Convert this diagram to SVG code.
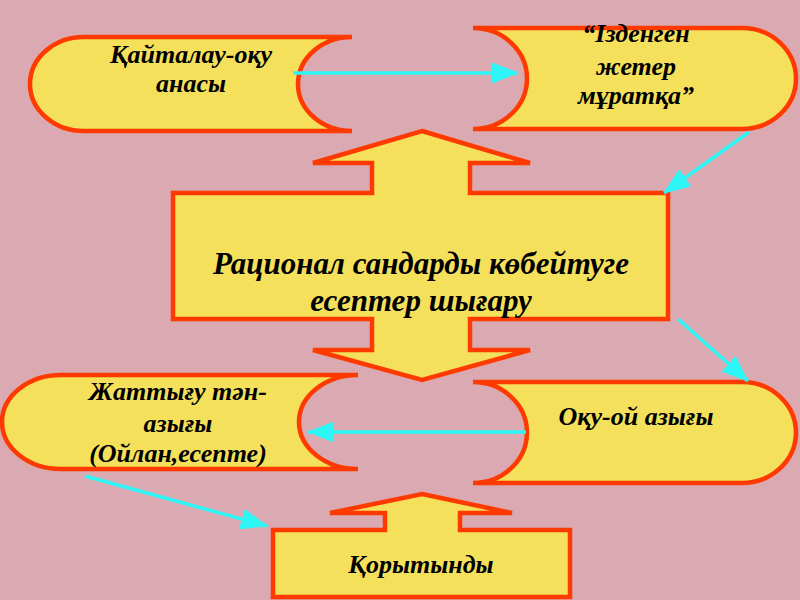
<svg xmlns="http://www.w3.org/2000/svg" width="800" height="600" viewBox="0 0 800 600">
<defs>
<style>
.shape{fill:#f4e05a;stroke:#ff3a00;stroke-width:4.5;stroke-linejoin:miter}
.lbl{font-family:"Liberation Serif","Times New Roman",serif;font-weight:bold;font-style:italic;fill:#000;text-anchor:middle}
.s{font-size:26px}
.m{font-size:31px}
.con{stroke:#2ef6f6;stroke-width:3.5;fill:none}
</style>
<marker id="ah" viewBox="0 0 26 20" refX="26" refY="10" markerWidth="26" markerHeight="20" markerUnits="userSpaceOnUse" orient="auto">
<path d="M0,0 L26,10 L0,20 Z" fill="#2ef6f6" stroke="#2ef6f6" stroke-width="1"/>
</marker>
</defs>
<rect width="800" height="600" fill="#daa9b1"/>
<g id="node-kaitalau">
<path class="shape" d="M84,37 L352,37 A54 47 0 0 0 352,131 L84,131 A54 47 0 0 1 84,37 Z"/>
<text class="lbl s" x="191" y="63">Қайталау-оқу</text>
<text class="lbl s" x="191" y="92">анасы</text>
</g>
<g id="node-izdengen">
<path class="shape" d="M473,28 L742,28 A54 50.5 0 0 1 742,129 L473,129 A54 50.5 0 0 0 473,28 Z"/>
<text class="lbl s" x="636" y="42">“Ізденген</text>
<text class="lbl s" x="636" y="75">жетер</text>
<text class="lbl s" x="636" y="104">мұратқа”</text>
</g>
<g id="node-center">
<path class="shape" d="M422,131 L530,163 L470,163 L470,193 L668,193 L668,319 L470,319 L470,350 L530,350 L422,380 L313,350 L372,350 L372,319 L173,319 L173,193 L372,193 L372,163 L313,163 Z"/>
<text class="lbl m" x="421" y="274">Рационал сандарды көбейтуге</text>
<text class="lbl m" x="421" y="311">есептер шығару</text>
</g>
<g id="node-zhattygu">
<path class="shape" d="M61,375 L358,375 A59 47 0 0 0 358,469 L61,469 A59 47 0 0 1 61,375 Z"/>
<text class="lbl s" x="178" y="400">Жаттығу тән-</text>
<text class="lbl s" x="178" y="432">азығы</text>
<text class="lbl s" x="178" y="462">(Ойлан,есепте)</text>
</g>
<g id="node-oku">
<path class="shape" d="M473,382 L742,382 A54 50.5 0 0 1 742,483 L473,483 A54 50.5 0 0 0 473,382 Z"/>
<text class="lbl s" x="636" y="425">Оқу-ой азығы</text>
</g>
<g id="node-korytyndy">
<path class="shape" d="M422,494 L512,513 L460,513 L460,530 L570,530 L570,597 L273,597 L273,530 L385,530 L385,513 L330,513 Z"/>
<text class="lbl s" x="421" y="573">Қорытынды</text>
</g>
<g id="connectors">
<line class="con" x1="293" y1="73" x2="518" y2="73" marker-end="url(#ah)"/>
<line class="con" x1="749" y1="132" x2="664" y2="193" marker-end="url(#ah)"/>
<line class="con" x1="678" y1="319" x2="748" y2="381" marker-end="url(#ah)"/>
<line class="con" x1="526" y1="432" x2="308" y2="432" marker-end="url(#ah)"/>
<line class="con" x1="85" y1="476" x2="267" y2="526" marker-end="url(#ah)"/>
</g>
</svg>
